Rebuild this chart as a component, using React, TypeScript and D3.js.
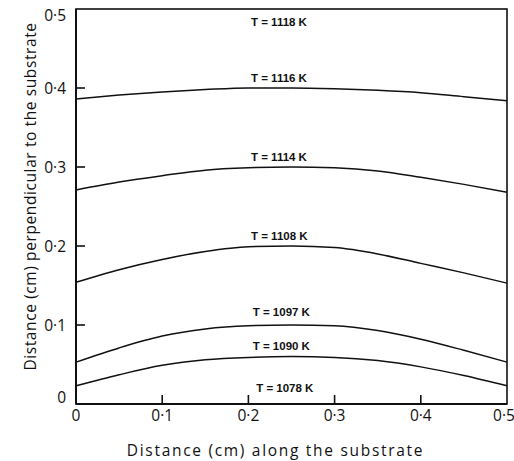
import React from "react";
import * as d3 from "d3";

// x positions (cm along the substrate)
const xs = [0, 0.05, 0.1, 0.15, 0.2, 0.25, 0.3, 0.35, 0.4, 0.45, 0.5];

// isotherm heights (cm perpendicular to the substrate)
const t1116 = [0.386, 0.391, 0.395, 0.398, 0.4, 0.4, 0.399, 0.397, 0.394, 0.389, 0.384];
const t1114 = [0.271, 0.281, 0.289, 0.296, 0.299, 0.3, 0.299, 0.295, 0.287, 0.278, 0.268];
const t1108 = [0.154, 0.17, 0.183, 0.193, 0.199, 0.2, 0.198, 0.19, 0.178, 0.166, 0.153];
const t1097 = [0.053, 0.071, 0.086, 0.095, 0.099, 0.1, 0.099, 0.093, 0.082, 0.068, 0.053];
const t1090 = [0.023, 0.037, 0.049, 0.056, 0.059, 0.06, 0.059, 0.055, 0.047, 0.036, 0.023];

const curves = [t1116, t1114, t1108, t1097, t1090];

// curve labels
const labelTemps = ["1118", "1116", "1114", "1108", "1097", "1090", "1078"];
const labelY = [0.483, 0.413, 0.313, 0.213, 0.116, 0.073, 0.02];
const labelX = [0.203, 0.203, 0.203, 0.203, 0.205, 0.205, 0.209];

const xTicks = [0, 0.1, 0.2, 0.3, 0.4, 0.5];
const yTicks = [0, 0.1, 0.2, 0.3, 0.4, 0.5];

const W = 514;
const H = 461;
const m = { left: 76, right: 7, top: 9, bottom: 57 };

const fmt = (d: number) => (d === 0 ? "0" : d.toFixed(1).replace(".", "·"));

export default function App() {
  const x = d3.scaleLinear().domain([0, 0.5]).range([m.left, W - m.right]);
  const y = d3.scaleLinear().domain([0, 0.5]).range([H - m.bottom, m.top]);
  const line = d3
    .line<number>()
    .x((d, i) => x(xs[i]))
    .y(d => y(d))
    .curve(d3.curveMonotoneX);

  const font = "'Open Sans', 'DejaVu Sans', sans-serif";

  return (
    <svg
      width={W}
      height={H}
      style={{ position: "absolute", left: 0, top: 0, background: "#fff" }}
    >
      {/* frame */}
      <rect
        x={x(0)}
        y={y(0.5)}
        width={x(0.5) - x(0)}
        height={y(0) - y(0.5)}
        fill="none"
        stroke="#111"
        strokeWidth={1.6}
      />
      <line x1={x(0)} x2={x(0)} y1={y(0.5)} y2={y(0)} stroke="#111" strokeWidth={2} />
      <line x1={x(0)} x2={x(0.5)} y1={y(0)} y2={y(0)} stroke="#111" strokeWidth={2} />

      {/* ticks */}
      {xTicks.slice(1, -1).map(t => (
        <line key={"xt" + t} x1={x(t)} x2={x(t)} y1={y(0)} y2={y(0) - 9} stroke="#111" strokeWidth={1.6} />
      ))}
      {yTicks.slice(1, -1).map(t => (
        <line key={"yt" + t} x1={x(0)} x2={x(0) + 9} y1={y(t)} y2={y(t)} stroke="#111" strokeWidth={1.6} />
      ))}

      {/* tick labels */}
      {xTicks.map(t => (
        <text
          key={"xl" + t}
          x={t === 0.5 ? x(t) - 3 : x(t)}
          y={y(0) + 17}
          textAnchor="middle"
          fontFamily={font}
          fontSize={15.5}
          fill="#111"
        >
          {fmt(t)}
        </text>
      ))}
      {yTicks.map(t => (
        <text
          key={"yl" + t}
          x={66}
          y={t === 0 ? y(t) - 1 : t === 0.5 ? y(t) + 12 : y(t) + 6}
          textAnchor="end"
          fontFamily={font}
          fontSize={15.5}
          fill="#111"
        >
          {fmt(t)}
        </text>
      ))}

      {/* curves */}
      {curves.map((c, i) => (
        <path key={"c" + i} d={line(c) || ""} fill="none" stroke="#111" strokeWidth={1.5} />
      ))}

      {/* curve labels */}
      {labelTemps.map((t, i) => (
        <text
          key={"lb" + t}
          x={x(labelX[i])}
          y={y(labelY[i]) + 4}
          fontFamily="'Liberation Sans', Arial, sans-serif"
          fontWeight="bold"
          fontSize={11.5}
          fill="#111"
        >
          {`T = ${t} K`}
        </text>
      ))}

      {/* axis titles */}
      <text
        x={(x(0) + x(0.5)) / 2 - 16}
        y={456}
        textAnchor="middle"
        fontFamily={font}
        fontSize={15.5}
        letterSpacing={1.7}
        fill="#111"
      >
        Distance (cm) along the substrate
      </text>
      <text
        transform={`translate(36, ${(y(0) + y(0.5)) / 2 - 10}) rotate(-90)`}
        textAnchor="middle"
        fontFamily={font}
        fontSize={15.5}
        letterSpacing={0.6}
        fill="#111"
      >
        Distance (cm) perpendicular to the substrate
      </text>
    </svg>
  );
}
